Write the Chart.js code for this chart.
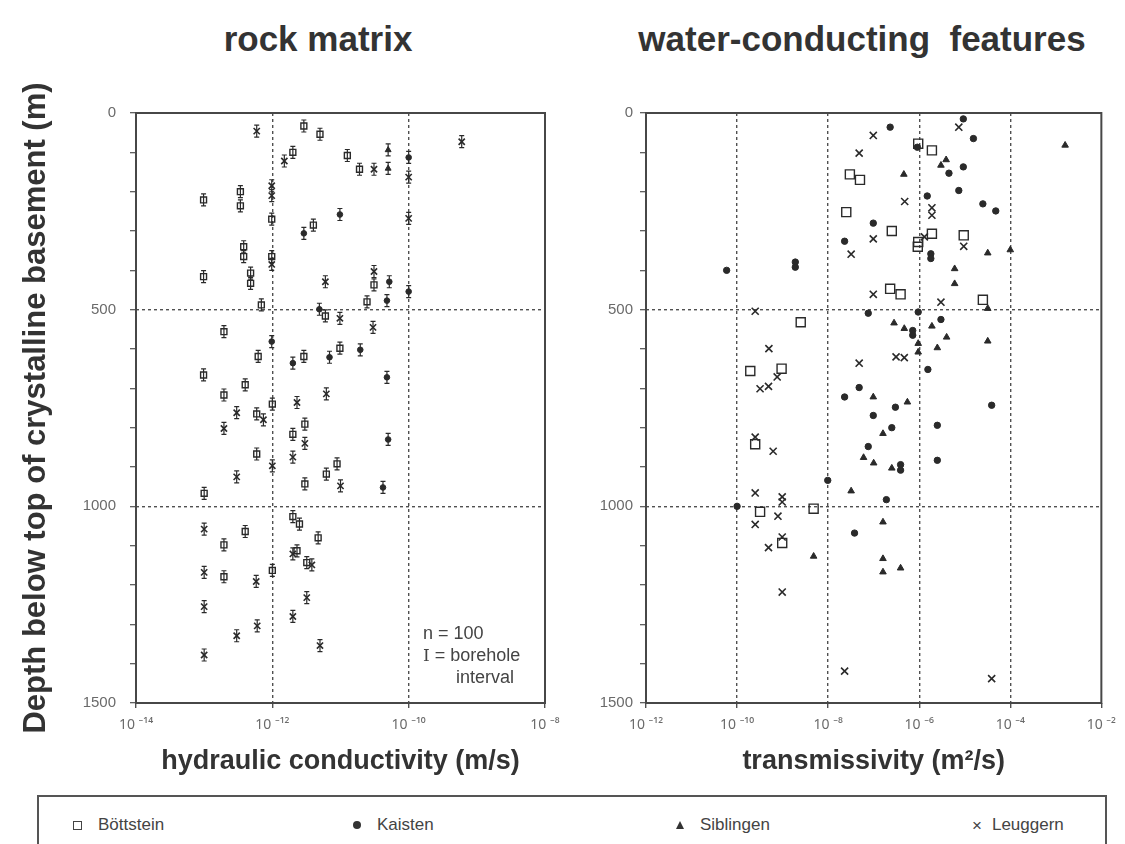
<!DOCTYPE html>
<html>
<head>
<meta charset="utf-8">
<title>rock matrix / water-conducting features</title>
<script src="https://cdn.jsdelivr.net/npm/chart.js@4.4.1/dist/chart.umd.min.js"></script>
<style>
  html, body { margin: 0; padding: 0; background: #fff; }
  body {
    position: relative;
    width: 1125px;
    height: 844px;
    overflow: hidden;
    font-family: 'Liberation Sans', Arial, sans-serif;
    color: #333;
  }
  canvas { position: absolute; top: 0; }
  #rock { left: 0; }
  #water { left: 590px; }

  .panel-title {
    position: absolute;
    top: 21px;
    font-size: 35px;
    line-height: 35px;
    font-weight: bold;
    white-space: pre;
    transform: translateX(-50%);
    color: #333;
  }

  .note {
    position: absolute;
    left: 423px;
    top: 622px;
    font-size: 18px;
    line-height: 22px;
    color: #444;
    white-space: pre;
  }
  .note .bar { font-family: 'DejaVu Serif', serif; font-size: 17px; }
  .note .indent { padding-left: 33px; }

  .legend-box {
    position: absolute;
    left: 37px;
    top: 795px;
    width: 1066px;
    height: 80px;
    border: 2px solid #555;
    border-bottom: none;
  }
  .legend-item {
    position: absolute;
    top: 814px;
    height: 22px;
    display: flex;
    align-items: center;
    font-size: 17px;
    color: #444;
  }
  .sym { display: inline-block; margin-right: 16px; }
  .sym.box { width: 7px; height: 7px; border: 1.5px solid #444; }
  .sym.dot { width: 8px; height: 8px; border-radius: 50%; background: #333; }
  .sym.tri {
    width: 0; height: 0;
    border-left: 4.5px solid transparent;
    border-right: 4.5px solid transparent;
    border-bottom: 8px solid #333;
  }
  .sym.cross { font-size: 17px; line-height: 17px; margin-right: 10px; }
</style>
</head>
<body>

<div class="panel-title" style="left: 318px;">rock matrix</div>
<div class="panel-title" style="left: 862px;">water-conducting  features</div>

<canvas id="rock" width="590" height="790"></canvas>
<canvas id="water" width="535" height="790"></canvas>

<div class="note">n = 100
<span class="bar">I</span> = borehole
<span class="indent">interval</span></div>

<div class="legend-box"></div>
<div id="legend"></div>

<script>
// boreholes, in legend order
const boreholes = ['Böttstein', 'Kaisten', 'Siblingen', 'Leuggern'];

// rock matrix: [hydraulic conductivity (m/s), depth (m)]
const rockBottstein = [
  [2.9e-12, 33], [5.0e-12, 54], [2.0e-12, 100], [1.26e-11, 108], [1.9e-11, 143],
  [9.8e-14, 221], [3.4e-13, 200], [3.4e-13, 236], [9.8e-13, 270], [4.0e-12, 285],
  [3.8e-13, 340], [3.8e-13, 365], [9.8e-13, 365], [9.8e-14, 416], [4.8e-13, 407],
  [4.8e-13, 433], [3.1e-11, 437], [2.45e-11, 480], [6.9e-13, 488], [6.0e-12, 516],
  [1.95e-13, 556], [6.2e-13, 619], [2.9e-12, 619], [9.8e-12, 598], [9.8e-14, 666],
  [4.0e-13, 691], [1.95e-13, 717], [1.0e-12, 740], [5.9e-13, 765], [3.0e-12, 791],
  [2.0e-12, 817], [5.9e-13, 867], [8.9e-12, 892], [6.2e-12, 918], [3.0e-12, 943],
  [1.0e-13, 967], [2.0e-12, 1026], [2.5e-12, 1045], [4.0e-13, 1064], [4.7e-12, 1080],
  [1.95e-13, 1098], [2.3e-12, 1113], [3.2e-12, 1143], [1.0e-12, 1163], [1.95e-13, 1179]
];
const rockKaisten = [
  [1.0e-10, 113], [9.8e-12, 258], [2.9e-12, 306], [5.2e-11, 429], [1.0e-10, 454],
  [4.8e-11, 477], [4.9e-12, 499], [9.8e-13, 581], [2.0e-12, 636], [6.9e-12, 621],
  [1.95e-11, 602], [4.8e-11, 672], [5.0e-11, 830], [4.2e-11, 952]
];
const rockSiblingen = [
  [5.0e-11, 94], [5.0e-11, 141]
];
const rockLeuggern = [
  [5.9e-13, 46], [1.5e-12, 122], [3.1e-11, 143], [1.0e-10, 163], [6.0e-10, 73],
  [9.8e-13, 185], [9.8e-13, 210], [1.0e-10, 268], [6.0e-12, 429], [3.1e-11, 403],
  [9.8e-13, 385], [9.8e-12, 522], [3.0e-11, 545], [2.3e-12, 736], [6.2e-12, 714],
  [3.0e-13, 762], [7.4e-13, 780], [1.95e-13, 802], [3.0e-12, 840], [2.0e-12, 875],
  [1.0e-12, 897], [3.0e-13, 925], [1.0e-11, 948], [1.0e-13, 1058], [2.0e-12, 1121],
  [3.8e-12, 1149], [1.0e-13, 1168], [5.8e-13, 1191], [3.2e-12, 1232], [1.0e-13, 1255],
  [2.0e-12, 1280], [6.0e-13, 1304], [3.0e-13, 1329], [5.0e-12, 1354], [1.0e-13, 1378]
];

// water-conducting features: [transmissivity (m2/s), depth (m)]
const waterBottstein = [
  [9.5e-7, 78], [1.9e-6, 95], [3.0e-8, 156], [5.0e-8, 170], [2.5e-8, 252],
  [2.5e-7, 300], [9.5e-7, 328], [9.3e-7, 340], [1.9e-6, 307], [9.5e-6, 311],
  [2.3e-7, 447], [3.9e-7, 461], [2.5e-5, 475], [2.5e-9, 532], [1.95e-10, 656],
  [9.5e-10, 650], [2.5e-10, 842], [3.2e-10, 1014], [4.8e-9, 1006], [9.8e-10, 1093]
];
const waterKaisten = [
  [2.3e-7, 36], [9.1e-7, 87], [9.3e-6, 15], [1.55e-5, 65], [9.3e-6, 137],
  [4.5e-6, 153], [7.4e-6, 197], [1.5e-6, 211], [2.5e-5, 231], [4.8e-5, 249],
  [9.8e-8, 280], [2.3e-8, 326], [1.8e-6, 358], [1.8e-6, 370], [5.9e-11, 400],
  [1.9e-9, 379], [1.9e-9, 392], [7.6e-8, 509], [9.5e-7, 506], [3.0e-6, 525],
  [7.2e-7, 553], [7.2e-7, 565], [1.55e-6, 652], [2.3e-8, 722], [4.8e-8, 698],
  [9.8e-8, 769], [3.0e-7, 748], [3.9e-5, 743], [2.5e-6, 794], [2.5e-7, 800],
  [7.6e-8, 848], [3.9e-7, 894], [3.9e-7, 908], [2.5e-6, 883], [9.8e-9, 934],
  [1.9e-7, 983], [1.0e-10, 1000], [3.8e-8, 1068]
];
const waterSiblingen = [
  [4.6e-7, 156], [3.9e-6, 119], [3.0e-6, 133], [3.2e-5, 356], [1.0e-4, 348],
  [6.0e-6, 396], [6.0e-6, 434], [3.2e-5, 497], [2.8e-7, 534], [4.7e-7, 548],
  [1.9e-6, 542], [4.0e-6, 570], [9.5e-7, 586], [9.5e-7, 608], [2.5e-6, 597],
  [3.2e-5, 580], [9.8e-8, 722], [5.5e-7, 735], [1.6e-7, 815], [6.0e-8, 876],
  [1.0e-7, 890], [2.5e-7, 903], [3.2e-8, 961], [1.6e-7, 1040], [4.8e-9, 1127],
  [1.6e-7, 1133], [1.6e-7, 1167], [3.9e-7, 1157], [1.6e-3, 82]
];
const waterLeuggern = [
  [9.8e-8, 57], [4.8e-8, 102], [7.4e-6, 36], [4.8e-7, 225], [1.9e-6, 241],
  [1.9e-6, 260], [9.5e-6, 339], [9.8e-8, 320], [3.2e-8, 359], [1.3e-6, 315],
  [9.8e-8, 461], [3.0e-6, 481], [2.5e-10, 504], [5.0e-10, 599], [7.6e-10, 671],
  [3.2e-10, 701], [4.9e-10, 695], [4.8e-8, 636], [3.1e-7, 620], [4.7e-7, 622],
  [2.5e-10, 824], [6.2e-10, 860], [2.5e-10, 966], [2.5e-10, 1046], [9.8e-10, 976],
  [9.8e-10, 989], [7.9e-10, 1025], [9.8e-10, 1078], [4.9e-10, 1105], [9.8e-10, 1218],
  [2.3e-8, 1419], [3.9e-5, 1438]
];

// axis ticks
const depthLabels = [0, 500, 1000, 1500];
const depthGridLines = [500, 1000];
const conductivityExponents = [-14, -12, -10, -8];
const transmissivityExponents = [-12, -10, -8, -6, -4, -2];

const INK = '#2a2a2a';
const GRID = '#505050';
const LABEL = '#6a6a6a';

const SUPERSCRIPT = {
  '-': '\u207B', '0': '\u2070', '1': '\u00B9', '2': '\u00B2', '3': '\u00B3',
  '4': '\u2074', '5': '\u2075', '6': '\u2076', '7': '\u2077', '8': '\u2078', '9': '\u2079'
};

/**
 * "10 ⁻¹²" style label for a power of ten
 * @param {number} value
 * @return {string}
 */
function powerLabel (value) {
  const exponent = Math.round(Math.log10(value));
  return '10 ' + String(exponent).split('').map(c => SUPERSCRIPT[c]).join('');
}

// marker look per borehole, small for the matrix panel, larger for the features panel
const markerStyles = {
  'Böttstein': { pointStyle: 'rect', radius: [4.2, 6.4], fill: 'rgba(0,0,0,0)', width: 1.4 },
  'Kaisten':   { pointStyle: 'circle', radius: [2.8, 3.2], fill: INK, width: 1 },
  'Siblingen': { pointStyle: 'triangle', radius: [3.4, 3.8], fill: INK, width: 1 },
  'Leuggern':  { pointStyle: 'crossRot', radius: [4.4, 5], fill: INK, width: 1.6 }
};

// outer frame around the plot area
const framePlugin = {
  id: 'frame',
  afterDatasetsDraw (chart) {
    const { ctx, chartArea: a } = chart;
    ctx.save();
    ctx.strokeStyle = '#474747';
    ctx.lineWidth = 2;
    ctx.strokeRect(a.left, a.top, a.right - a.left, a.bottom - a.top);
    ctx.restore();
  }
};

// little "I" marks of the borehole interval behind each matrix sample
const intervalPlugin = {
  id: 'interval',
  beforeDatasetsDraw (chart, args, opts) {
    if (!opts.show) {
      return;
    }
    const ctx = chart.ctx;
    ctx.save();
    ctx.strokeStyle = INK;
    ctx.lineWidth = 1.2;
    chart.data.datasets.forEach((ds, i) => {
      chart.getDatasetMeta(i).data.forEach(pt => {
        ctx.beginPath();
        ctx.moveTo(pt.x, pt.y - 6);
        ctx.lineTo(pt.x, pt.y + 6);
        ctx.moveTo(pt.x - 2.5, pt.y - 6);
        ctx.lineTo(pt.x + 2.5, pt.y - 6);
        ctx.moveTo(pt.x - 2.5, pt.y + 6);
        ctx.lineTo(pt.x + 2.5, pt.y + 6);
        ctx.stroke();
      });
    });
    ctx.restore();
  }
};

/**
 * @param {Array[]} seriesList pairs per borehole, in legend order
 * @param {number} sizeIndex 0 = matrix markers, 1 = feature markers
 */
function buildDatasets (seriesList, sizeIndex) {
  return seriesList.map((pairs, i) => {
    const style = markerStyles[boreholes[i]];
    return {
      label: boreholes[i],
      data: pairs.map(([value, depth]) => ({ x: value, y: depth })),
      pointStyle: style.pointStyle,
      pointRadius: style.radius[sizeIndex],
      pointBackgroundColor: style.fill,
      pointBorderColor: INK,
      pointBorderWidth: style.width,
      showLine: false
    };
  });
}

/**
 * Creates one depth panel
 * @param {string} id canvas id
 * @param {Object} cfg
 */
function createDepthChart (id, cfg) {
  const exps = cfg.exponents;
  const xMin = Math.pow(10, exps[0]);
  const xMax = Math.pow(10, exps[exps.length - 1]);

  return new Chart(document.getElementById(id), {
    type: 'scatter',
    data: { datasets: cfg.datasets },
    options: {
      responsive: false,
      animation: false,
      devicePixelRatio: 1,
      layout: { padding: { left: 0, right: cfg.rightPad, top: 113, bottom: 0 } },
      plugins: {
        legend: { display: false },
        tooltip: { enabled: false },
        interval: { show: cfg.intervals }
      },
      scales: {
        x: {
          type: 'logarithmic',
          min: xMin,
          max: xMax,
          afterBuildTicks: scale => {
            scale.ticks = exps.map(e => ({ value: Math.pow(10, e) }));
          },
          afterFit: scale => { scale.height = 87; },
          ticks: {
            autoSkip: false,
            maxRotation: 0,
            padding: 9,
            color: LABEL,
            font: { family: "'Noto Sans', 'DejaVu Sans', sans-serif", size: 14 },
            callback: value => powerLabel(value)
          },
          grid: {
            lineWidth: 1.4,
            color: c => (c.tick && c.tick.value > xMin * 1.5 && c.tick.value < xMax / 1.5) ? GRID : 'rgba(0,0,0,0)',
            tickColor: GRID,
            tickLength: 5
          },
          border: { display: false, dash: [3, 3] },
          title: {
            display: true,
            text: cfg.xTitle,
            color: '#333',
            font: { family: 'Liberation Sans', size: 27, weight: 'bold' },
            padding: { top: 0, bottom: 12 }
          }
        },
        y: {
          type: 'linear',
          reverse: true,
          min: depthLabels[0],
          max: depthLabels[depthLabels.length - 1],
          afterFit: scale => { scale.width = cfg.yWidth; },
          ticks: {
            stepSize: 100,
            autoSkip: false,
            padding: cfg.labelPad,
            color: LABEL,
            font: { family: 'Liberation Sans', size: 15 },
            callback: value => depthLabels.includes(value) ? String(value) : ''
          },
          grid: {
            lineWidth: 1.4,
            color: c => (c.tick && depthGridLines.includes(c.tick.value)) ? GRID : 'rgba(0,0,0,0)',
            tickColor: GRID,
            tickWidth: 1.2,
            tickLength: 6
          },
          border: { display: false, dash: [3, 3] },
          title: {
            display: !!cfg.yTitle,
            text: cfg.yTitle || '',
            color: '#333',
            font: { family: 'Liberation Sans', size: 31, weight: 'bold' },
            padding: { top: 18, bottom: 0 }
          }
        }
      }
    },
    plugins: [framePlugin, intervalPlugin]
  });
}

createDepthChart('rock', {
  datasets: buildDatasets([rockBottstein, rockKaisten, rockSiblingen, rockLeuggern], 0),
  exponents: conductivityExponents,
  xTitle: 'hydraulic conductivity (m/s)',
  yTitle: 'Depth below top of crystalline basement (m)',
  yWidth: 136,
  rightPad: 45,
  labelPad: 14,
  intervals: true
});

createDepthChart('water', {
  datasets: buildDatasets([waterBottstein, waterKaisten, waterSiblingen, waterLeuggern], 1),
  exponents: transmissivityExponents,
  xTitle: 'transmissivity (m\u00B2/s)',
  yTitle: null,
  yWidth: 56,
  rightPad: 20,
  labelPad: 7,
  intervals: false
});

// legend strip along the bottom
const legendSymbolClass = { 'Böttstein': 'box', 'Kaisten': 'dot', 'Siblingen': 'tri', 'Leuggern': 'cross' };
const legendLeft = [73, 353, 676, 972];
const legendRoot = document.getElementById('legend');
boreholes.forEach((name, i) => {
  const item = document.createElement('div');
  item.className = 'legend-item';
  item.style.left = legendLeft[i] + 'px';
  const sym = document.createElement('span');
  sym.className = 'sym ' + legendSymbolClass[name];
  if (legendSymbolClass[name] === 'cross') {
    sym.textContent = '\u00D7';
  }
  item.appendChild(sym);
  item.appendChild(document.createTextNode(name));
  legendRoot.appendChild(item);
});
</script>
</body>
</html>
